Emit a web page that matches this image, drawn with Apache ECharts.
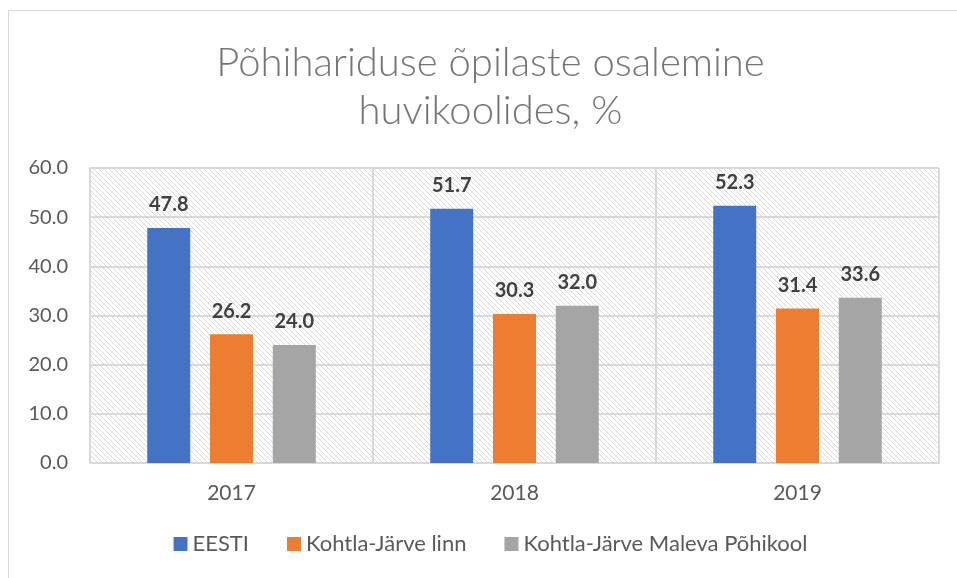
<!DOCTYPE html>
<html>
<head>
<meta charset="utf-8">
<script src="https://cdn.jsdelivr.net/npm/echarts@6/dist/echarts.min.js"></script>
<style>
  html, body { margin: 0; padding: 0; background: #fff; overflow: hidden; }
  #frame { position: absolute; left: 8px; top: 10px; width: 1000px; height: 600px; border: 1px solid #d9d9d9; pointer-events: none; }
  #main { position: absolute; left: 0; top: 0; width: 981px; height: 578px; }
</style>
</head>
<body>
<div id="frame"></div>
<div id="main"></div>
<script>
var years = ['2017', '2018', '2019'];
var seriesNames = ['EESTI', 'Kohtla-Järve linn', 'Kohtla-Järve Maleva Põhikool'];
var eesti = [47.8, 51.7, 52.3];
var kjLinn = [26.2, 30.3, 31.4];
var maleva = [24.0, 32.0, 33.6];
var colors = ['#4472c4', '#ed7d31', '#a5a5a5'];

// diagonal hatch for the plot background
var tile = document.createElement('canvas');
tile.width = 5;
tile.height = 5;
var ctx = tile.getContext('2d');
ctx.fillStyle = '#ffffff';
ctx.fillRect(0, 0, 5, 5);
ctx.strokeStyle = '#d9d9d9';
ctx.lineWidth = 1;
ctx.beginPath();
ctx.moveTo(-1, -1); ctx.lineTo(6, 6);
ctx.moveTo(-1, 4); ctx.lineTo(1, 6);
ctx.moveTo(4, -1); ctx.lineTo(6, 1);
ctx.stroke();

// the chart frame runs past the right edge, so the div is a bit wider than the window
var myChart = echarts.init(document.getElementById('main'));

var font = 'Lato, "Open Sans", sans-serif';
var values = [eesti, kjLinn, maleva];

var option = {
    backgroundColor: 'transparent',
    title: {
        text: 'Põhihariduse õpilaste osalemine\nhuvikoolides, %',
        left: 'center',
        top: 34,
        textStyle: {
            fontFamily: font,
            fontWeight: 300,
            fontSize: 40,
            lineHeight: 48,
            color: '#757575'
        }
    },
    legend: {
        bottom: 18,
        left: 'center',
        itemWidth: 14,
        itemHeight: 14,
        itemGap: 38,
        icon: 'rect',
        textStyle: { fontFamily: font, fontSize: 22, color: '#595959' },
        data: seriesNames
    },
    grid: {
        left: 90,
        right: 42,
        top: 168,
        bottom: 115,
        show: true,
        backgroundColor: { image: tile, repeat: 'repeat' },
        borderColor: '#d9d9d9',
        borderWidth: 1
    },
    xAxis: {
        type: 'category',
        data: years,
        axisLine: { lineStyle: { color: '#d9d9d9', width: 2 } },
        axisTick: { show: false },
        splitLine: { show: true, lineStyle: { color: '#d9d9d9', width: 2 } },
        axisLabel: { fontFamily: font, fontSize: 21, color: '#595959', margin: 20 }
    },
    yAxis: {
        type: 'value',
        min: 0,
        max: 60,
        interval: 10,
        axisLine: { show: false },
        axisTick: { show: false },
        splitLine: { lineStyle: { color: '#d9d9d9', width: 2 } },
        axisLabel: {
            fontFamily: font,
            fontSize: 20,
            color: '#595959',
            margin: 22,
            formatter: function (v) { return v.toFixed(1); }
        }
    },
    series: seriesNames.map(function (name, i) {
        return {
            name: name,
            type: 'bar',
            data: values[i],
            barWidth: 43,
            barGap: '46%',
            itemStyle: { color: colors[i] },
            label: {
                show: true,
                position: 'top',
                distance: 13,
                fontFamily: font,
                fontSize: 20,
                fontWeight: 'bold',
                color: '#404040',
                formatter: function (p) { return p.value.toFixed(1); }
            }
        };
    })
};

myChart.setOption(option);
</script>
</body>
</html>
